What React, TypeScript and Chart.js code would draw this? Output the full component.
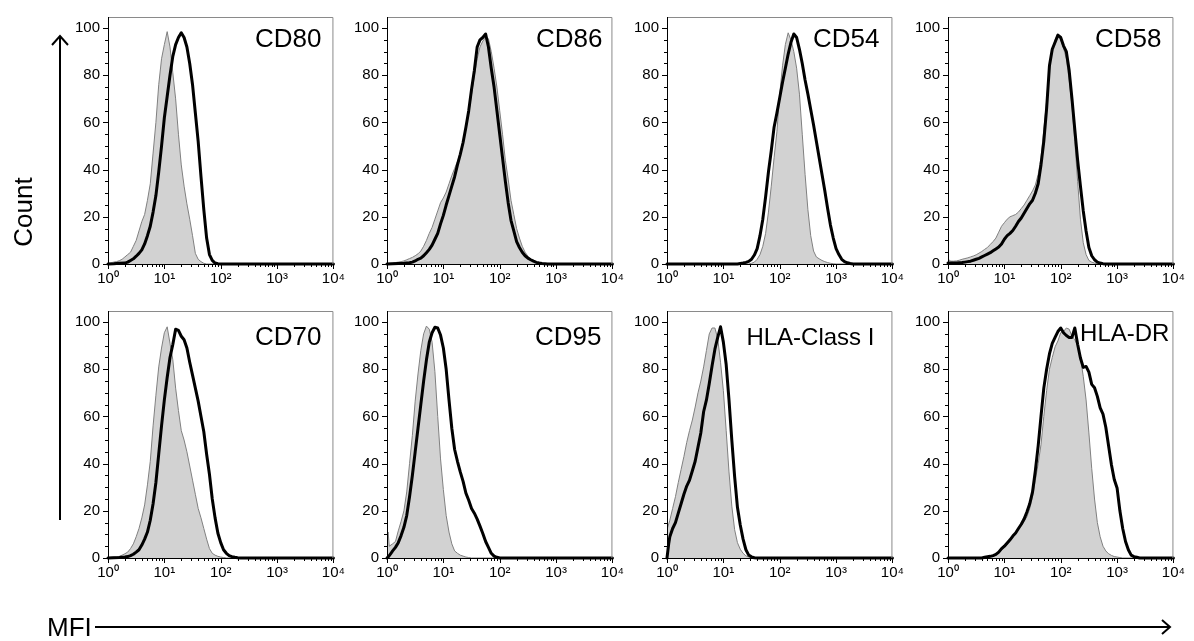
import React, { useEffect, useRef } from "react";
import { Chart, registerables } from "chart.js";

Chart.register(...registerables);

// Each series: [log10(MFI), count (% of mode)]
const CD80_ISO = [[0,0.3],[0.05,0.5],[0.1,0.8],[0.15,1],[0.2,1.4],[0.25,2],[0.3,3],[0.35,4],[0.4,5],[0.45,7.5],[0.5,10],[0.55,14],[0.6,18],[0.65,21],[0.7,27],[0.75,34],[0.8,47],[0.85,60],[0.9,76],[0.95,87],[1,93],[1.05,98.5],[1.1,92],[1.15,81],[1.2,70],[1.25,55],[1.3,42],[1.35,33],[1.4,25.5],[1.45,19],[1.5,12],[1.55,4.5],[1.6,2],[1.65,1],[1.7,0.3],[1.75,0],[4,0]];
const CD80_STAIN = [[0,0],[0.1,0.1],[0.2,0.3],[0.3,0.4],[0.35,0.8],[0.4,1.5],[0.45,2.2],[0.5,3.3],[0.55,4.5],[0.6,6],[0.65,8.5],[0.7,12],[0.75,16],[0.8,22],[0.85,29],[0.9,39],[0.95,50],[1,62],[1.05,71],[1.1,80],[1.15,88],[1.2,93],[1.25,96],[1.3,98],[1.35,96],[1.4,92],[1.45,85],[1.5,76],[1.55,64],[1.6,52],[1.65,37],[1.7,23],[1.75,11],[1.8,4],[1.85,1.5],[1.9,0.4],[1.95,0.1],[2,0],[4,0]];

const CD86_ISO = [[0,0.2],[0.05,0.3],[0.1,0.4],[0.15,0.6],[0.2,0.8],[0.25,1],[0.3,1.3],[0.35,1.8],[0.4,2.3],[0.45,2.8],[0.5,3.5],[0.55,4.3],[0.6,5.5],[0.65,7.5],[0.7,10],[0.75,13],[0.8,15.5],[0.85,19],[0.9,22.5],[0.95,26],[1,28],[1.05,30.5],[1.1,34],[1.15,37.5],[1.2,40.5],[1.25,43.5],[1.3,47],[1.35,52],[1.4,57],[1.45,64],[1.5,72],[1.55,80],[1.6,87],[1.65,92],[1.7,94.5],[1.75,96],[1.8,95.5],[1.85,90],[1.9,83],[1.95,75],[2,65],[2.05,55],[2.1,44],[2.15,36],[2.2,27],[2.25,21],[2.3,15],[2.35,11],[2.4,7.5],[2.45,5],[2.5,3.3],[2.55,2],[2.6,1.2],[2.65,0.6],[2.7,0.3],[2.75,0.1],[2.8,0],[4,0]];
const CD86_STAIN = [[0,0],[0.1,0.1],[0.2,0.2],[0.3,0.3],[0.35,0.4],[0.4,0.5],[0.45,0.8],[0.5,1.3],[0.55,2],[0.6,2.5],[0.65,3.5],[0.7,4.8],[0.75,6.2],[0.8,8],[0.85,10.5],[0.9,13],[0.95,17],[1,20.6],[1.05,25],[1.1,29],[1.15,33],[1.2,37],[1.25,42],[1.3,46.5],[1.35,51.5],[1.4,58],[1.45,65],[1.5,74],[1.55,82],[1.6,92],[1.65,95],[1.7,96],[1.75,97.5],[1.8,92],[1.85,83],[1.9,75],[1.95,65],[2,55],[2.05,45],[2.1,35],[2.15,26],[2.2,18.5],[2.25,14],[2.3,9.5],[2.35,7],[2.4,5],[2.45,3.5],[2.5,2.5],[2.55,1.8],[2.6,1.2],[2.65,0.7],[2.7,0.4],[2.75,0.2],[2.8,0.1],[2.85,0],[4,0]];

const CD54_ISO = [[0,0],[1.45,0],[1.5,0.3],[1.55,0.8],[1.6,2],[1.65,4],[1.7,7.5],[1.75,13],[1.8,22],[1.85,33],[1.9,45],[1.95,56],[2,72],[2.05,84],[2.1,93],[2.15,98],[2.2,95],[2.25,90],[2.3,83],[2.35,72],[2.4,55],[2.45,38],[2.5,23],[2.55,12],[2.6,5.5],[2.65,3],[2.7,2.2],[2.75,1.5],[2.8,1],[2.85,0.6],[2.9,0.3],[2.95,0.1],[3,0],[4,0]];
const CD54_STAIN = [[0,0],[1.25,0],[1.3,0.2],[1.35,0.4],[1.4,0.7],[1.45,1.1],[1.5,2],[1.55,3.8],[1.6,6.5],[1.65,12],[1.7,19],[1.75,28.5],[1.8,39],[1.85,48],[1.9,58],[1.95,64],[2,70.5],[2.05,77],[2.1,83],[2.15,89],[2.2,94],[2.25,97.5],[2.3,96],[2.35,91],[2.4,85],[2.45,78],[2.5,72],[2.55,65.5],[2.6,59],[2.65,52],[2.7,45],[2.75,38],[2.8,31],[2.85,23.5],[2.9,16.5],[2.95,11],[3,6.5],[3.05,4],[3.1,2],[3.15,1],[3.2,0.5],[3.25,0.2],[3.3,0],[4,0]];

const CD58_ISO = [[0,2],[0.05,1.2],[0.1,1.2],[0.15,1.3],[0.2,1.6],[0.25,2],[0.3,2.3],[0.35,2.6],[0.4,3],[0.45,3.4],[0.5,3.9],[0.55,4.6],[0.6,5.3],[0.65,6.2],[0.7,7],[0.75,8.3],[0.8,9.5],[0.85,11],[0.9,13.5],[0.95,16],[1,17.5],[1.05,19],[1.1,20],[1.15,20.5],[1.2,21],[1.25,22],[1.3,23.5],[1.35,25],[1.4,27],[1.45,29],[1.5,31],[1.55,33.5],[1.6,38],[1.65,45],[1.7,57],[1.75,69],[1.8,84],[1.85,91],[1.9,95],[1.95,97.5],[2,95],[2.05,91.5],[2.1,87],[2.15,78],[2.2,67],[2.25,52],[2.3,35],[2.35,19],[2.4,9],[2.45,4],[2.5,1.5],[2.55,0.8],[2.6,0.4],[2.65,0.2],[2.7,0.1],[2.75,0],[4,0]];
const CD58_STAIN = [[0,0.4],[0.15,0.4],[0.2,0.5],[0.25,0.6],[0.3,0.8],[0.35,1],[0.4,1.2],[0.45,1.6],[0.5,2],[0.55,2.4],[0.6,3],[0.65,3.6],[0.7,4.2],[0.75,4.8],[0.8,5.6],[0.85,6.4],[0.9,7.2],[0.95,8.5],[1,10.5],[1.05,12],[1.1,13],[1.15,14.2],[1.2,16],[1.25,18],[1.3,19.5],[1.35,21.5],[1.4,23.5],[1.45,25.5],[1.5,27],[1.55,30],[1.6,34],[1.65,42],[1.7,52],[1.75,66],[1.8,84],[1.85,91],[1.9,94],[1.95,97],[2,96],[2.05,92.5],[2.1,90],[2.15,82],[2.2,70],[2.25,57],[2.3,44],[2.35,33],[2.4,22.5],[2.45,14],[2.5,7],[2.55,3.5],[2.6,1.8],[2.65,0.8],[2.7,0.4],[2.75,0.15],[2.8,0],[4,0]];

const CD70_ISO = [[0,0.2],[0.05,0.3],[0.1,0.4],[0.15,0.5],[0.2,0.7],[0.25,1.2],[0.3,1.8],[0.35,2.5],[0.4,4],[0.45,6],[0.5,9],[0.55,12.5],[0.6,17],[0.65,22.5],[0.7,31],[0.75,41],[0.8,56],[0.85,69],[0.9,81],[0.95,89],[1,95.5],[1.05,98],[1.1,91],[1.15,84],[1.2,72],[1.25,62.5],[1.3,54],[1.35,50],[1.4,45],[1.45,39],[1.5,33],[1.55,27],[1.6,21],[1.65,17],[1.7,12.5],[1.75,8],[1.8,4],[1.85,2],[1.9,1.2],[1.95,0.7],[2,0.4],[2.05,0.2],[2.1,0],[4,0]];
const CD70_STAIN = [[0,0],[0.1,0.1],[0.2,0.2],[0.25,0.3],[0.3,0.4],[0.35,0.6],[0.4,1],[0.45,1.6],[0.5,2.5],[0.55,3.5],[0.6,5.5],[0.65,8],[0.7,11],[0.75,16],[0.8,23],[0.85,32],[0.9,44],[0.95,56],[1,67],[1.05,76.5],[1.1,85],[1.15,90.5],[1.2,97],[1.25,96.5],[1.3,94],[1.35,92.5],[1.4,89],[1.45,83],[1.5,77.5],[1.55,72],[1.6,66.5],[1.65,60],[1.7,53.5],[1.75,44],[1.8,35.5],[1.85,25],[1.9,17],[1.95,10.5],[2,6.5],[2.05,3.5],[2.1,2],[2.15,1],[2.2,0.6],[2.25,0.3],[2.3,0.1],[2.35,0],[4,0]];

const CD95_ISO = [[0,8],[0.02,11],[0.04,5],[0.1,6],[0.15,7],[0.2,11.5],[0.25,15.5],[0.3,20],[0.35,28],[0.4,40],[0.45,52],[0.5,66.5],[0.55,78],[0.6,88],[0.65,95],[0.7,98.3],[0.75,97],[0.8,91.5],[0.85,79],[0.9,60],[0.95,42],[1,29],[1.05,18],[1.1,11],[1.15,6],[1.2,3],[1.25,2],[1.3,1.2],[1.35,0.8],[1.4,0.4],[1.45,0.2],[1.5,0],[4,0]];
const CD95_STAIN = [[0,0],[0.03,0.7],[0.07,2],[0.1,3],[0.15,4.5],[0.2,6.5],[0.25,9.5],[0.3,13],[0.35,18],[0.4,26],[0.45,35],[0.5,45],[0.55,55],[0.6,65],[0.65,75],[0.7,84],[0.75,91.5],[0.8,95.5],[0.85,97.8],[0.9,97.5],[0.95,94.5],[1,89],[1.05,80],[1.1,67],[1.15,55],[1.2,46],[1.25,41],[1.3,36.5],[1.35,32.5],[1.4,27.5],[1.45,24.5],[1.5,21],[1.55,19],[1.6,16.5],[1.65,13.5],[1.7,10.4],[1.75,7],[1.8,4.5],[1.85,2],[1.9,0.8],[1.95,0.3],[2,0],[4,0]];

const HLA_I_ISO = [[0,12],[0.05,16],[0.1,21],[0.15,26],[0.2,32],[0.25,37.5],[0.3,43],[0.35,49],[0.4,54],[0.45,58.5],[0.5,64],[0.55,70],[0.6,75],[0.65,81],[0.7,88],[0.75,95],[0.8,97.5],[0.85,97.5],[0.9,93],[0.95,83],[1,71],[1.05,54],[1.1,36.5],[1.15,22],[1.2,12],[1.25,6.5],[1.3,3.7],[1.35,2],[1.4,0.9],[1.45,0.4],[1.5,0.1],[1.55,0],[4,0]];
const HLA_I_STAIN = [[0,0],[0.01,0],[0.03,6],[0.05,9],[0.1,12.5],[0.15,15],[0.2,19],[0.25,23],[0.3,27],[0.35,30.5],[0.4,33],[0.45,37],[0.5,41],[0.55,47],[0.6,53],[0.65,62],[0.7,67],[0.75,74],[0.8,81.5],[0.85,88.5],[0.9,93.5],[0.95,98],[1,91.5],[1.05,82],[1.1,67],[1.15,50],[1.2,34.5],[1.25,21.5],[1.3,14],[1.35,8],[1.4,3.5],[1.45,1.2],[1.5,0.5],[1.55,0.1],[1.6,0],[4,0]];

const HLA_DR_ISO = [[0,0],[0.55,0],[0.6,0.1],[0.65,0.3],[0.7,0.5],[0.75,0.8],[0.8,1.1],[0.85,1.5],[0.9,2.3],[0.95,3.3],[1,4.3],[1.05,5.6],[1.1,7],[1.15,9],[1.2,10.8],[1.25,12.3],[1.3,13.7],[1.35,15.5],[1.4,17.5],[1.45,21],[1.5,26],[1.55,33],[1.6,40],[1.65,48],[1.7,60],[1.75,71],[1.8,80],[1.85,85],[1.9,89.5],[1.95,92],[2,95.5],[2.05,96],[2.1,97.5],[2.15,97],[2.2,94],[2.25,92.5],[2.3,90],[2.35,85],[2.4,77],[2.45,67],[2.5,53],[2.55,38],[2.6,25],[2.65,15],[2.7,9],[2.75,5],[2.8,3],[2.85,1.8],[2.9,1.1],[2.95,0.6],[3,0.4],[3.05,0.2],[3.1,0],[4,0]];
const HLA_DR_STAIN = [[0,0],[0.6,0],[0.65,0.3],[0.7,0.5],[0.75,0.7],[0.8,1],[0.85,1.5],[0.9,2.5],[0.95,4],[1,5],[1.05,6.4],[1.1,7.7],[1.15,9.3],[1.2,10.6],[1.25,12.5],[1.3,14.3],[1.35,16.5],[1.4,19.5],[1.45,23],[1.5,28],[1.55,37],[1.6,47.5],[1.65,60],[1.7,72],[1.75,80],[1.8,86.5],[1.85,91],[1.9,93.5],[1.95,96],[2,97.5],[2.05,95.5],[2.1,94.3],[2.15,93.5],[2.2,93.5],[2.25,97.5],[2.3,90.6],[2.35,84.8],[2.4,80.8],[2.45,81.2],[2.5,78.8],[2.55,73.6],[2.6,72.2],[2.65,68.5],[2.7,63.6],[2.75,61],[2.8,55.4],[2.85,47.5],[2.9,39.5],[2.95,33.3],[3,29.7],[3.05,20],[3.1,12.5],[3.15,7],[3.2,3.5],[3.25,1.2],[3.3,0.6],[3.35,0.3],[3.4,0],[4,0]];

const PANEL_NAMES = ["CD80", "CD86", "CD54", "CD58", "CD70", "CD95", "HLA-Class I", "HLA-DR"];
const ISOTYPE_SERIES = [CD80_ISO, CD86_ISO, CD54_ISO, CD58_ISO, CD70_ISO, CD95_ISO, HLA_I_ISO, HLA_DR_ISO];
const STAINED_SERIES = [CD80_STAIN, CD86_STAIN, CD54_STAIN, CD58_STAIN, CD70_STAIN, CD95_STAIN, HLA_I_STAIN, HLA_DR_STAIN];
const X_TICK_LABELS = ["10⁰", "10¹", "10²", "10³", "10⁴"];
const Y_TICK_STEP = 20;
const Y_MAX = 104.7;

// ---- layout / style (kept apart from the data) ----
const FONT = "'Liberation Sans', Arial, Helvetica, sans-serif";
const PLOT_LEFT = [108, 387, 667, 948];
const PLOT_TOP = [12, 306];
const PLOT_W = 229;
const PLOT_H = 252;
const AXIS_W = 42;
const AXIS_H = 30;
const PAD_TOP = 12;
const PAD_RIGHT = 14;
const TICK_FONT_SIZE = 15;
const LABEL_STYLE = [
  { size: 26, inset: 12, dy: 30 },
  { size: 26, inset: 10, dy: 30 },
  { size: 26, inset: 13, dy: 30 },
  { size: 26, inset: 12, dy: 30 },
  { size: 26, inset: 12, dy: 34 },
  { size: 26, inset: 11, dy: 34 },
  { size: 24, inset: 18, dy: 34 },
  { size: 24, inset: 4, dy: 30 },
];

const framePlugin = {
  id: "frame",
  afterDatasetsDraw(chart: any, _args: any, opts: any) {
    const { ctx, chartArea: a } = chart;
    const xs = chart.scales.x;
    const ys = chart.scales.y;
    ctx.save();
    ctx.lineWidth = 1;
    ctx.strokeStyle = "#8a8a8a";
    ctx.beginPath();
    ctx.moveTo(a.left, a.top + 0.5);
    ctx.lineTo(a.right - 0.5, a.top + 0.5);
    ctx.lineTo(a.right - 0.5, a.bottom);
    ctx.stroke();

    ctx.strokeStyle = "#000";
    ctx.beginPath();
    ctx.moveTo(a.left + 0.5, a.top);
    ctx.lineTo(a.left + 0.5, a.bottom + 0.5);
    ctx.lineTo(a.right, a.bottom + 0.5);
    for (let d = 0; d <= 4; d++) {
      const maxM = d === 4 ? 1 : 9;
      for (let m = 1; m <= maxM; m++) {
        const px = Math.round(xs.getPixelForValue(m * Math.pow(10, d))) + 0.5;
        const len = m === 1 ? 5 : 3;
        ctx.moveTo(px, a.bottom);
        ctx.lineTo(px, a.bottom + len);
      }
    }
    for (let v = 0; v <= 100; v += 5) {
      const py = Math.round(ys.getPixelForValue(v)) + 0.5;
      const len = v % 20 === 0 ? 5 : 3;
      ctx.moveTo(a.left, py);
      ctx.lineTo(a.left - len, py);
    }
    ctx.stroke();

    ctx.fillStyle = "#000";
    ctx.font = `${opts.size}px ${FONT}`;
    ctx.textAlign = "right";
    ctx.textBaseline = "alphabetic";
    ctx.fillText(opts.text, a.right - opts.inset, a.top + opts.dy);
    ctx.restore();
  },
};

const toPoints = (series: number[][]) => series.map(([e, c]) => ({ x: Math.pow(10, e), y: c }));

function Panel({ index }: { index: number }) {
  const ref = useRef<HTMLCanvasElement>(null);
  const col = index % 4;
  const row = Math.floor(index / 4);
  const width = AXIS_W + PLOT_W + PAD_RIGHT;
  const height = PAD_TOP + PLOT_H + AXIS_H;

  useEffect(() => {
    const style = LABEL_STYLE[index];
    const chart = new Chart(ref.current as HTMLCanvasElement, {
      type: "line",
      data: {
        datasets: [
          {
            data: toPoints(STAINED_SERIES[index]),
            borderColor: "#000",
            borderWidth: 3,
            borderJoinStyle: "round",
            borderCapStyle: "round",
            fill: false,
            pointRadius: 0,
            tension: 0,
            clip: false,
          },
          {
            data: toPoints(ISOTYPE_SERIES[index]),
            borderColor: "#808080",
            borderWidth: 1,
            backgroundColor: "#d2d2d2",
            fill: "origin",
            pointRadius: 0,
            tension: 0,
          },
        ],
      } as any,
      options: {
        responsive: false,
        animation: false,
        devicePixelRatio: 1,
        events: [],
        layout: { padding: { top: PAD_TOP, right: PAD_RIGHT, left: 0, bottom: 0 } },
        plugins: {
          legend: { display: false },
          tooltip: { enabled: false },
          frame: { text: PANEL_NAMES[index], ...style },
        } as any,
        scales: {
          x: {
            type: "logarithmic",
            min: 1,
            max: 10000,
            grid: { display: false, drawTicks: false },
            border: { display: false },
            afterFit: (s: any) => {
              s.height = AXIS_H;
            },
            ticks: {
              autoSkip: false,
              maxRotation: 0,
              minRotation: 0,
              padding: 6,
              color: "#000",
              font: { family: FONT, size: TICK_FONT_SIZE },
              callback: (v: any) => {
                const e = Math.log10(Number(v));
                const r = Math.round(e);
                return Math.abs(e - r) < 1e-6 ? X_TICK_LABELS[r] : "";
              },
            },
          },
          y: {
            type: "linear",
            min: 0,
            max: Y_MAX,
            grid: { display: false, drawTicks: false },
            border: { display: false },
            afterFit: (s: any) => {
              s.width = AXIS_W;
            },
            ticks: {
              stepSize: Y_TICK_STEP,
              includeBounds: false,
              padding: 8,
              color: "#000",
              font: { family: FONT, size: TICK_FONT_SIZE },
              callback: (v: any) => String(v),
            },
          },
        } as any,
      },
      plugins: [framePlugin as any],
    });
    return () => chart.destroy();
  }, [index]);

  return (
    <canvas
      ref={ref}
      width={width}
      height={height}
      style={{
        position: "absolute",
        left: PLOT_LEFT[col] - AXIS_W,
        top: PLOT_TOP[row] - PAD_TOP,
        width,
        height,
      }}
    />
  );
}

export default function App() {
  return (
    <div
      style={{
        position: "absolute",
        left: 0,
        top: 0,
        width: 1194,
        height: 641,
        background: "#fff",
        overflow: "hidden",
        fontFamily: FONT,
      }}
    >
      {PANEL_NAMES.map((_, i) => (
        <Panel key={i} index={i} />
      ))}
      <svg width={1194} height={641} style={{ position: "absolute", left: 0, top: 0 }}>
        <line x1={60} y1={520} x2={60} y2={36} stroke="#000" strokeWidth={2} />
        <polyline points="52,45 60,36 68,45" fill="none" stroke="#000" strokeWidth={2} />
        <text
          transform="translate(32,212) rotate(-90)"
          textAnchor="middle"
          fontSize={26}
          fontFamily={FONT}
          fill="#000"
        >
          Count
        </text>
        <text x={47} y={636} fontSize={26} fontFamily={FONT} fill="#000">
          MFI
        </text>
        <line x1={95} y1={627} x2={1170} y2={627} stroke="#000" strokeWidth={2} />
        <polyline points="1162,620 1170,627 1162,634" fill="none" stroke="#000" strokeWidth={2} />
      </svg>
    </div>
  );
}
